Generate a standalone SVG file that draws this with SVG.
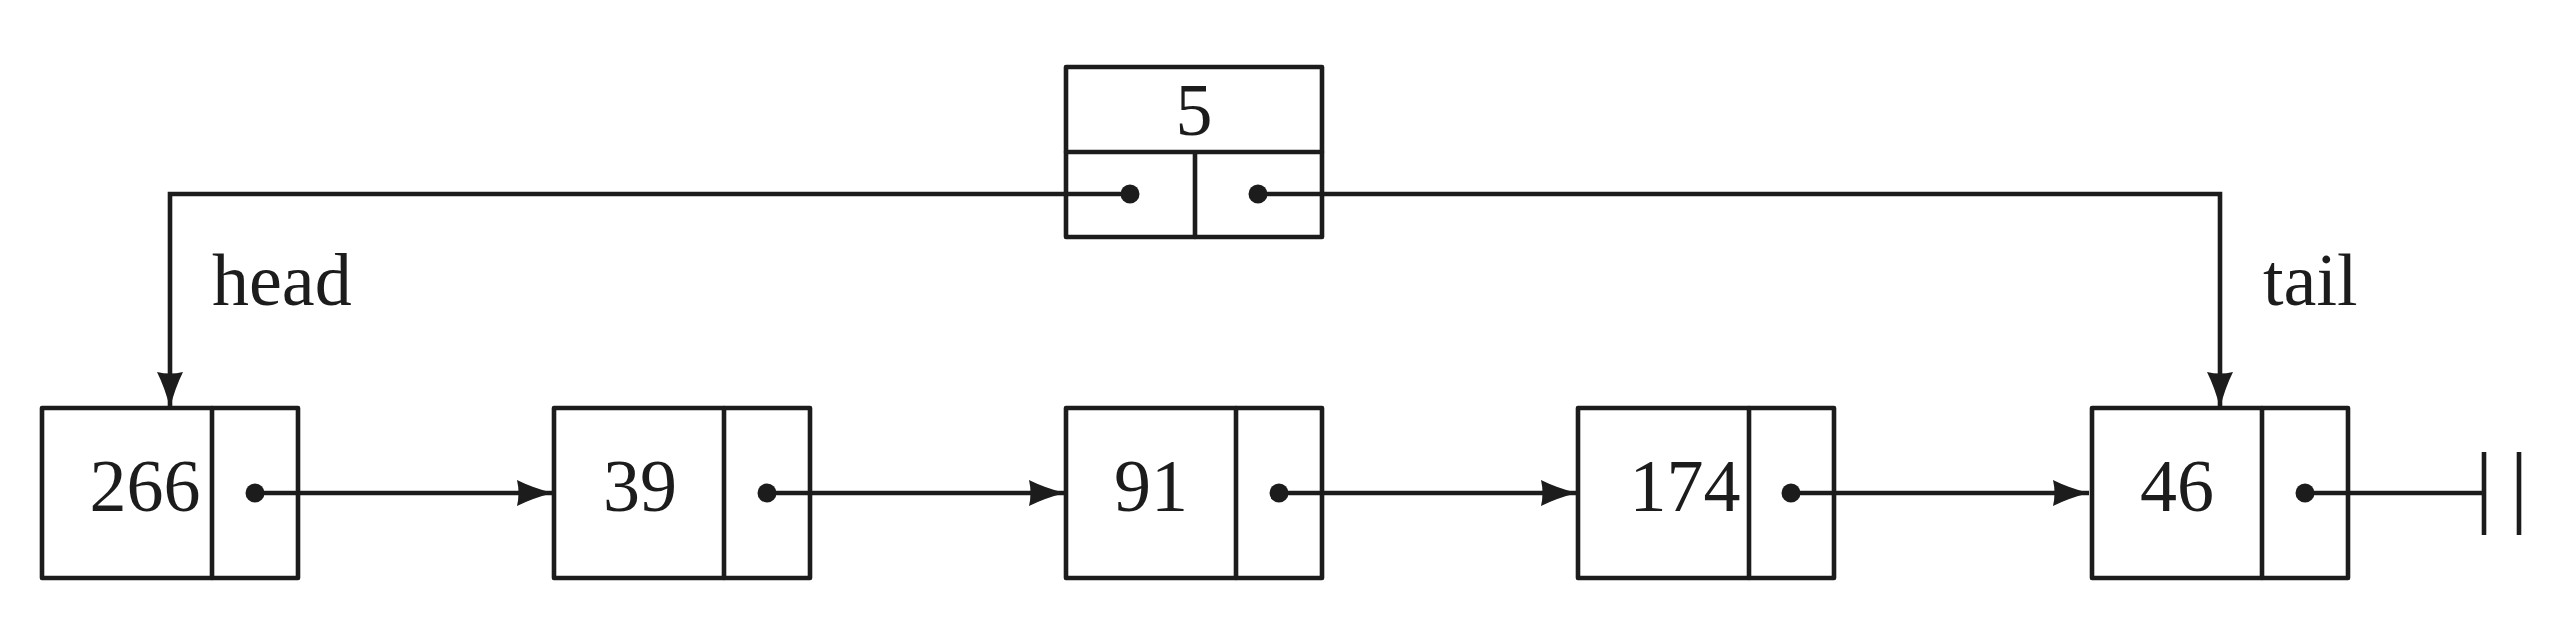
<svg xmlns="http://www.w3.org/2000/svg" width="2564" height="622" viewBox="0 0 2564 622">
<style>
.box{fill:none;stroke:#1c1c1c;stroke-width:4.6;stroke-linejoin:round;stroke-linecap:round}
.ln{fill:none;stroke:#1c1c1c;stroke-width:4.6}
.dot{fill:#1c1c1c}
.val{font-family:"Liberation Serif","DejaVu Serif",serif;font-size:74px;fill:#1c1c1c;text-anchor:middle}
.lbl{font-family:"Liberation Serif","DejaVu Serif",serif;font-size:74px;fill:#1c1c1c}
</style>
<defs>
<marker id="arr" markerUnits="userSpaceOnUse" markerWidth="40" markerHeight="30" viewBox="0 -15 38 30" refX="36" refY="0" orient="auto">
<path d="M0,-13 Q16,-5 36,0 Q16,5 0,13 Q3,0 0,-13 Z" fill="#1c1c1c"/>
</marker>
</defs>
<rect width="2564" height="622" fill="#ffffff"/>
<g id="connectors">
<path class="ln" d="M1130,194 H170 V408" marker-end="url(#arr)"/>
<path class="ln" d="M1258,194 H2220 V408" marker-end="url(#arr)"/>
<path class="ln" d="M255,493 H553" marker-end="url(#arr)"/>
<path class="ln" d="M767,493 H1065" marker-end="url(#arr)"/>
<path class="ln" d="M1279,493 H1577" marker-end="url(#arr)"/>
<path class="ln" d="M1791,493 H2089" marker-end="url(#arr)"/>
<path class="ln" d="M2305,493 H2484"/>
<path class="ln" d="M2484,452 V535 M2519,452 V535"/>
</g>
<g id="list-header">
<rect class="box" x="1066" y="67" width="256" height="170"/>
<path class="box" d="M1066,152 H1322 M1195,152 V237"/>
<text class="val" x="1194" y="135">5</text>
<circle class="dot" cx="1130" cy="194" r="9.5"/>
<circle class="dot" cx="1258" cy="194" r="9.5"/>
</g>
<g id="label-head"><text class="lbl" x="212" y="305">head</text></g>
<g id="label-tail"><text class="lbl" x="2263" y="305">tail</text></g>
<g id="node-266">
<rect class="box" x="42" y="408" width="256" height="170"/>
<path class="box" d="M212,408 V578"/>
<text class="val" x="145" y="511">266</text>
<circle class="dot" cx="255" cy="493" r="9.5"/>
</g>
<g id="node-39">
<rect class="box" x="554" y="408" width="256" height="170"/>
<path class="box" d="M724,408 V578"/>
<text class="val" x="640" y="511">39</text>
<circle class="dot" cx="767" cy="493" r="9.5"/>
</g>
<g id="node-91">
<rect class="box" x="1066" y="408" width="256" height="170"/>
<path class="box" d="M1236,408 V578"/>
<text class="val" x="1151" y="511">91</text>
<circle class="dot" cx="1279" cy="493" r="9.5"/>
</g>
<g id="node-174">
<rect class="box" x="1578" y="408" width="256" height="170"/>
<path class="box" d="M1749,408 V578"/>
<text class="val" x="1685" y="511">174</text>
<circle class="dot" cx="1791" cy="493" r="9.5"/>
</g>
<g id="node-46">
<rect class="box" x="2092" y="408" width="256" height="170"/>
<path class="box" d="M2262,408 V578"/>
<text class="val" x="2177" y="511">46</text>
<circle class="dot" cx="2305" cy="493" r="9.5"/>
</g>
</svg>
